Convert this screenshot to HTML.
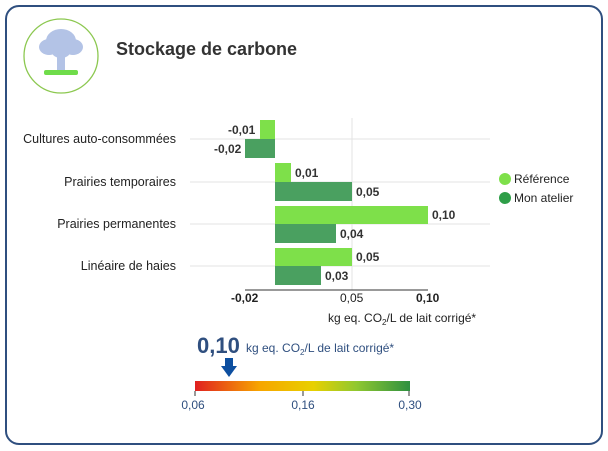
<!DOCTYPE html>
<html><head><style>
body{margin:0;width:608px;height:451px;background:#fff;font-family:"Liberation Sans",sans-serif;position:relative;overflow:hidden}
.frame{position:absolute;left:5px;top:5px;width:594px;height:436px;border:2px solid #2f4f7f;border-radius:14px}
</style></head><body>
<div class="frame"></div>
<svg width="608" height="451" style="position:absolute;left:0;top:0" font-family="Liberation Sans, sans-serif">
<circle cx="61" cy="56" r="37" fill="#fff" stroke="#8cc850" stroke-width="1.3"/>
<rect x="57" y="50" width="8" height="24" fill="#b3c3e6"/>
<ellipse cx="61" cy="41" rx="15" ry="12" fill="#b3c3e6"/>
<ellipse cx="49" cy="47" rx="10" ry="8" fill="#b3c3e6"/>
<ellipse cx="73" cy="47" rx="10" ry="8" fill="#b3c3e6"/>
<ellipse cx="61" cy="52" rx="9" ry="6" fill="#b3c3e6"/>
<rect x="44" y="70" width="34" height="5" fill="#6fdc4a" rx="2"/>
<text x="116" y="55" font-size="18" font-weight="bold" fill="#333">Stockage de carbone</text>
<g stroke="#e3e3e3" stroke-width="1">
<line x1="352" y1="118" x2="352" y2="290"/>
<line x1="190" y1="139" x2="490" y2="139"/>
<line x1="190" y1="182" x2="490" y2="182"/>
<line x1="190" y1="224" x2="490" y2="224"/>
<line x1="190" y1="266" x2="490" y2="266"/>
</g>
<g fill="#7ee04a">
<rect x="260" y="120" width="15" height="19"/>
<rect x="275" y="163" width="16" height="19"/>
<rect x="275" y="206" width="153" height="18"/>
<rect x="275" y="248" width="77" height="18"/>
</g>
<g fill="#4aa060">
<rect x="245" y="139" width="30" height="19"/>
<rect x="275" y="182" width="77" height="19"/>
<rect x="275" y="224" width="61" height="19"/>
<rect x="275" y="266" width="46" height="19"/>
</g>
<line x1="245" y1="290" x2="428" y2="290" stroke="#333" stroke-width="1"/>
<g font-size="12" fill="#333" font-weight="bold">
<text x="228" y="134">-0,01</text>
<text x="214" y="153">-0,02</text>
<text x="295" y="177">0,01</text>
<text x="356" y="196">0,05</text>
<text x="432" y="219">0,10</text>
<text x="340" y="238">0,04</text>
<text x="356" y="261">0,05</text>
<text x="325" y="280">0,03</text>
</g>
<g font-size="12.5" fill="#222" text-anchor="end">
<text x="176" y="143">Cultures auto-consommées</text>
<text x="176" y="186">Prairies temporaires</text>
<text x="176" y="228">Prairies permanentes</text>
<text x="176" y="270">Linéaire de haies</text>
</g>
<g font-size="12" fill="#222">
<text x="231" y="302" font-weight="bold">-0,02</text>
<text x="340" y="302">0,05</text>
<text x="416" y="302" font-weight="bold">0,10</text>
<text x="328" y="322">kg eq. CO<tspan font-size="8" dy="3">2</tspan><tspan dy="-3">/L de lait corrigé*</tspan></text>
</g>
<circle cx="505" cy="179" r="6" fill="#7ee04a"/>
<text x="514" y="183" font-size="12" fill="#222">Référence</text>
<circle cx="505" cy="198" r="6" fill="#2e9e48"/>
<text x="514" y="202" font-size="12" fill="#222">Mon atelier</text>
<text x="197" y="353" font-size="22" font-weight="bold" fill="#2f4f7f">0,10</text>
<text x="246" y="352" font-size="12" fill="#2f4f7f">kg eq. CO<tspan font-size="8" dy="3">2</tspan><tspan dy="-3">/L de lait corrigé*</tspan></text>
<rect x="225" y="358" width="8" height="8" fill="#0d4fa0"/>
<polygon points="221,366 237,366 229,377" fill="#0d4fa0"/>
<defs><linearGradient id="g"><stop offset="0" stop-color="#e02020"/><stop offset="0.3" stop-color="#f7a500"/><stop offset="0.55" stop-color="#e8d000"/><stop offset="0.75" stop-color="#90c830"/><stop offset="1" stop-color="#2e9040"/></linearGradient></defs>
<rect x="195" y="381" width="215" height="10" fill="url(#g)"/>
<g stroke="#333"><line x1="195" y1="391" x2="195" y2="396"/><line x1="303" y1="391" x2="303" y2="396"/><line x1="409" y1="391" x2="409" y2="396"/></g>
<g font-size="12" fill="#2f4f7f" text-anchor="middle">
<text x="193" y="409">0,06</text><text x="303" y="409">0,16</text><text x="410" y="409">0,30</text>
</g>
</svg>
</body></html>
